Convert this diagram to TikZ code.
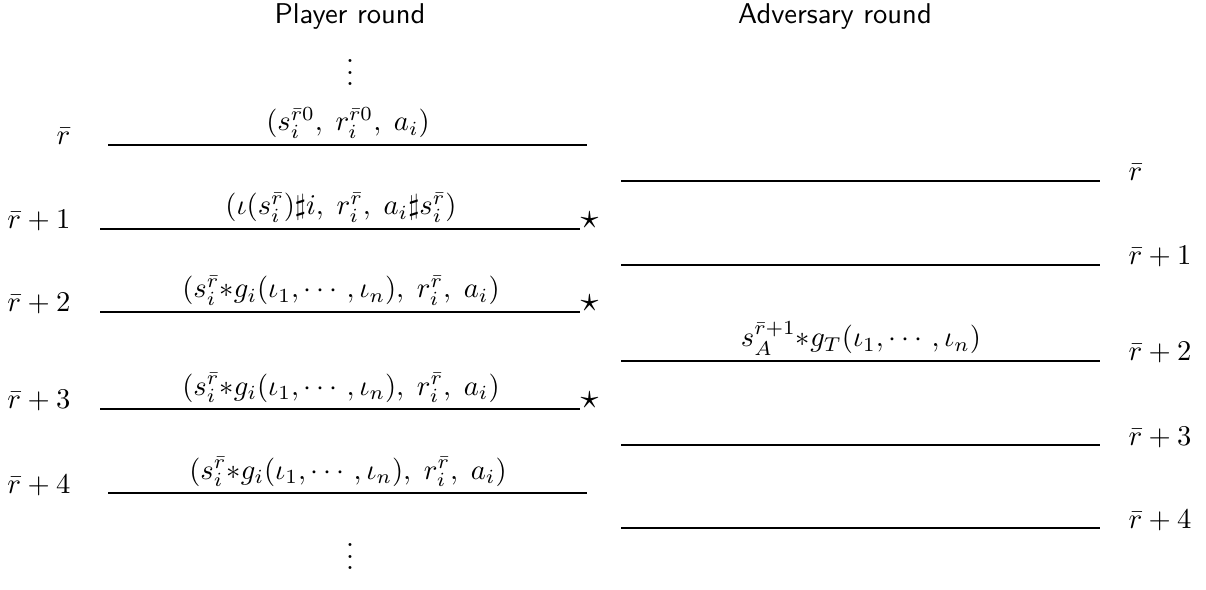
\documentclass[tikz,border=0pt]{standalone}
\usepackage{amsmath}
\begin{document}
\begin{tikzpicture}[x=0.3497pt,y=-0.3497pt,
  hline/.style={line width=0.65pt},
  llbl/.style={anchor=base east,inner sep=0pt},
  rlbl/.style={anchor=base west,inner sep=0pt},
  tup/.style={anchor=base,inner sep=0pt},
  starnode/.style={anchor=base west,inner sep=0pt,scale=1.25},
  ttl/.style={font=\sffamily,inner sep=0pt,anchor=base}]
\useasboundingbox (0,0) rectangle (1206,590);
% titles
\node[ttl] (tp) at (350,24) {Player round};
\node[ttl] (ta) at (835,24) {Adversary round};
\node[inner sep=0pt] (vt) at (350,64) {$\vdots$};
\node[inner sep=0pt] (vb) at (350,548) {$\vdots$};
% left rows
\coordinate (l0a) at (108,145); \coordinate (l0b) at (587,145);
\coordinate (l1a) at (100,229); \coordinate (l1b) at (580,229);
\coordinate (l2a) at (100,312); \coordinate (l2b) at (580,312);
\coordinate (l3a) at (100,409); \coordinate (l3b) at (580,409);
\coordinate (l4a) at (108,493); \coordinate (l4b) at (587,493);
\foreach \i in {0,...,4} {\draw[hline] (l\i a) -- (l\i b);}
\node[llbl] (lb0) at (71,145) {$\bar r$};
\node[llbl] (lb1) at (71,229) {$\bar r+1$};
\node[llbl] (lb2) at (71,312) {$\bar r+2$};
\node[llbl] (lb3) at (71,409) {$\bar r+3$};
\node[llbl] (lb4) at (71,493) {$\bar r+4$};
\node[starnode] (st1) at (l1b) {$\star$};
\node[starnode] (st2) at (l2b) {$\star$};
\node[starnode] (st3) at (l3b) {$\star$};
\node[tup] (t0) at (348,131) {$(s_i^{\bar r0},\; r_i^{\bar r0},\; a_i)$};
\node[tup] (t1) at (341,215) {$(\iota(s_i^{\bar r})\sharp i,\; r_i^{\bar r},\; a_i\sharp s_i^{\bar r})$};
\node[tup] (t2) at (341,298) {$(s_i^{\bar r}{\ast}g_i(\iota_1,\cdots,\iota_n),\; r_i^{\bar r},\; a_i)$};
\node[tup] (t3) at (341,395) {$(s_i^{\bar r}{\ast}g_i(\iota_1,\cdots,\iota_n),\; r_i^{\bar r},\; a_i)$};
\node[tup] (t4) at (348,479) {$(s_i^{\bar r}{\ast}g_i(\iota_1,\cdots,\iota_n),\; r_i^{\bar r},\; a_i)$};
% right rows
\coordinate (r0a) at (621,181); \coordinate (r0b) at (1100,181);
\coordinate (r1a) at (621,265); \coordinate (r1b) at (1100,265);
\coordinate (r2a) at (621,361); \coordinate (r2b) at (1100,361);
\coordinate (r3a) at (621,445); \coordinate (r3b) at (1100,445);
\coordinate (r4a) at (621,528); \coordinate (r4b) at (1100,528);
\foreach \i in {0,...,4} {\draw[hline] (r\i a) -- (r\i b);}
\node[rlbl] (rb0) at (1128,181) {$\bar r$};
\node[rlbl] (rb1) at (1128,265) {$\bar r+1$};
\node[rlbl] (rb2) at (1128,361) {$\bar r+2$};
\node[rlbl] (rb3) at (1128,445) {$\bar r+3$};
\node[rlbl] (rb4) at (1128,528) {$\bar r+4$};
\node[tup] (ta2) at (861,347) {$s_A^{\bar r+1}{\ast}g_T(\iota_1,\cdots,\iota_n)$};
\end{tikzpicture}
\end{document}
